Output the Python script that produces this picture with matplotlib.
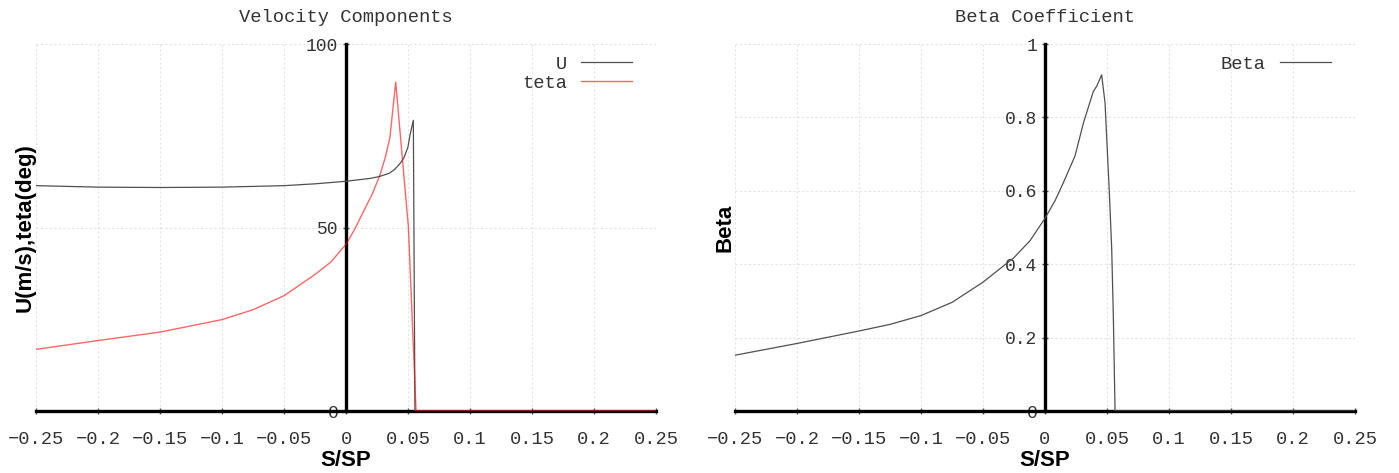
import matplotlib
matplotlib.use("Agg")
import matplotlib.pyplot as plt
from matplotlib.ticker import FixedLocator, FixedFormatter

# ---------------- data ----------------
s_U = [-0.25, -0.2, -0.15, -0.1, -0.05, -0.025, 0.0, 0.01, 0.02, 0.027, 0.035,
       0.0395, 0.044, 0.047, 0.05, 0.0516, 0.0543, 0.0556, 0.06, 0.1, 0.15, 0.2, 0.25]
U = [61.4, 61.0, 60.9, 61.0, 61.4, 61.9, 62.6, 63.0, 63.4, 63.9, 64.8,
     65.9, 67.6, 69.2, 72.0, 75.2, 79.2, 0.0, 0.0, 0.0, 0.0, 0.0, 0.0]

s_teta = [-0.25, -0.2, -0.15, -0.1, -0.075, -0.05, -0.025, -0.0125, 0.0, 0.007,
          0.014, 0.021, 0.0274, 0.032, 0.0355, 0.038, 0.0401, 0.045, 0.0503,
          0.0535, 0.0565, 0.1, 0.15, 0.2, 0.25]
teta = [16.8, 19.2, 21.5, 24.9, 27.6, 31.4, 37.2, 40.5, 45.4, 49.5,
        54.3, 59.0, 64.3, 69.5, 74.7, 82.9, 89.6, 70.6, 50.2,
        24.4, 0.0, 0.0, 0.0, 0.0, 0.0]

s_beta = [-0.25, -0.2, -0.15, -0.125, -0.1, -0.075, -0.05, -0.025, -0.0121, 0.0,
          0.0081, 0.0148, 0.0242, 0.031, 0.039, 0.0417, 0.0457, 0.0484, 0.0519,
          0.0538, 0.0551, 0.0565, 0.1, 0.15, 0.2, 0.25]
beta = [0.152, 0.184, 0.218, 0.236, 0.260, 0.296, 0.351, 0.418, 0.464, 0.525,
        0.573, 0.622, 0.695, 0.785, 0.871, 0.885, 0.916, 0.840, 0.595,
        0.441, 0.260, 0.0, 0.0, 0.0, 0.0, 0.0]

x_ticks = [-0.25, -0.2, -0.15, -0.1, -0.05, 0.0, 0.05, 0.1, 0.15, 0.2, 0.25]
x_tick_labels = ["\u22120.25", "\u22120.2", "\u22120.15", "\u22120.1", "\u22120.05",
                 "0", "0.05", "0.1", "0.15", "0.2", "0.25"]
vel_yticks = [0, 50, 100]
vel_ytick_labels = ["0", "50", "100"]
beta_yticks = [0, 0.2, 0.4, 0.6, 0.8, 1.0]
beta_ytick_labels = ["0", "0.2", "0.4", "0.6", "0.8", "1"]

# ---------------- style ----------------
MONO = ["Liberation Mono", "DejaVu Sans Mono"]
SANS = ["Liberation Sans", "DejaVu Sans"]
TXT = "#333333"
W, H = 1399, 473

fig = plt.figure(figsize=(W / 100, H / 100), dpi=100)
fig.patch.set_facecolor("white")


def px_axes(x0, x1, y0, y1):
    return fig.add_axes([x0 / W, 1 - y1 / H, (x1 - x0) / W, (y1 - y0) / H])


def style_axes(ax, yticks, ylabels, ylim, title, ylabel, ylabel_x):
    ax.set_xlim(-0.25, 0.25)
    ax.set_ylim(*ylim)
    for side in ("top", "right"):
        ax.spines[side].set_visible(False)
    ax.spines["left"].set_position(("data", 0))
    ax.spines["bottom"].set_position(("data", 0))
    for side in ("left", "bottom"):
        ax.spines[side].set_linewidth(2.4)
        ax.spines[side].set_color("black")
        ax.spines[side].set_zorder(2.5)
    ax.xaxis.set_major_locator(FixedLocator(x_ticks))
    ax.xaxis.set_major_formatter(FixedFormatter(x_tick_labels))
    ax.yaxis.set_major_locator(FixedLocator(yticks))
    ax.yaxis.set_major_formatter(FixedFormatter(ylabels))
    ax.tick_params(axis="x", direction="inout", length=5, width=1, color="#555555",
                   pad=12, labelsize=13.5, labelcolor=TXT)
    ax.tick_params(axis="y", direction="inout", length=5, width=1, color="#555555",
                   pad=3, labelsize=13, labelcolor=TXT)
    for lab in ax.get_xticklabels() + ax.get_yticklabels():
        lab.set_fontfamily(MONO)
    ax.grid(True, color="#e4e4e4", linestyle=(0, (2, 2)), linewidth=0.8)
    ax.set_axisbelow(True)
    ax.set_title(title, fontfamily=MONO, fontsize=13.5, color=TXT, pad=16)
    ax.set_xlabel("S/SP", fontfamily=SANS, fontweight="bold", fontsize=16, color="black")
    ax.xaxis.set_label_coords(0.5, -0.105)
    ax.set_ylabel(ylabel, fontfamily=SANS, fontweight="bold", fontsize=16, color="black")
    ax.yaxis.label.set_verticalalignment("center")
    ax.yaxis.set_label_coords(ylabel_x, 0.5)


def add_legend(ax):
    leg = ax.legend(loc="upper right", bbox_to_anchor=(1 - 17 / 620, 1 - 4 / 367),
                    frameon=False, markerfirst=False, handlelength=2.7,
                    handletextpad=0.75, labelspacing=0.1, borderaxespad=0.0,
                    prop={"family": MONO, "size": 13.5})
    for t in leg.get_texts():
        t.set_color(TXT)
    return leg


# ---------------- left: velocity components ----------------
ax1 = px_axes(36, 656, 44, 411)
ax1.plot(s_U, U, color="#505050", linewidth=0.9, label="U", zorder=3)
ax1.plot(s_teta, teta, color="#ff0000", alpha=0.6, linewidth=1.0, label="teta", zorder=3)
style_axes(ax1, vel_yticks, vel_ytick_labels, (0, 100), "Velocity Components",
           "U(m/s),teta(deg)", -0.0177)
add_legend(ax1)

# ---------------- right: beta coefficient ----------------
ax2 = px_axes(735, 1355, 44, 411)
ax2.plot(s_beta, beta, color="#505050", linewidth=0.9, label="Beta", zorder=3)
style_axes(ax2, beta_yticks, beta_ytick_labels, (0, 1), "Beta Coefficient",
           "Beta", -0.016)
add_legend(ax2)

fig.savefig("out.png", dpi=100, facecolor="white")
